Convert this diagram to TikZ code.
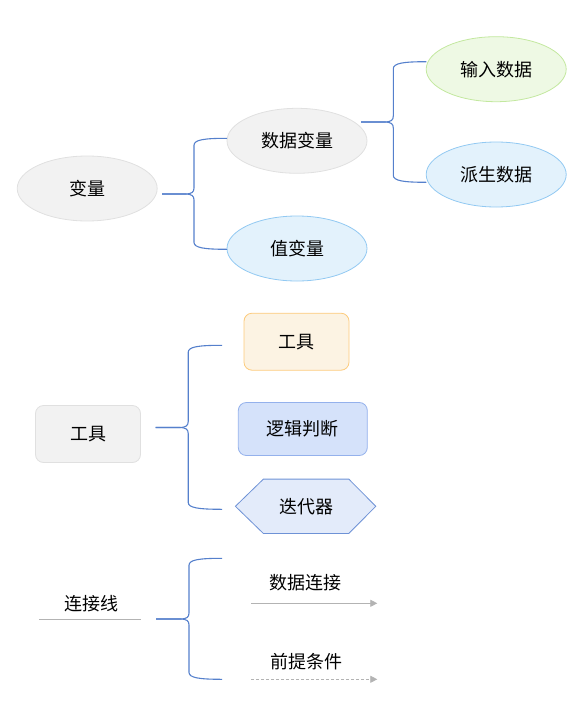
\documentclass[tikz,border=0pt]{standalone}
\usepackage{fontspec}
\newfontfamily\cjk{Noto Sans CJK SC}
\usetikzlibrary{shapes.geometric,arrows.meta,calc,backgrounds}

\definecolor{grayfill}{HTML}{F2F2F2}
\definecolor{grayedge}{HTML}{E0E0E0}
\definecolor{bluefill}{HTML}{E3F2FC}
\definecolor{blueedge}{HTML}{92C9F2}
\definecolor{greenfill}{HTML}{EEF9E4}
\definecolor{greenedge}{HTML}{C3E89F}
\definecolor{orangefill}{HTML}{FCF3E3}
\definecolor{orangeedge}{HTML}{FCCB7C}
\definecolor{logicfill}{HTML}{D5E2FA}
\definecolor{logicedge}{HTML}{94B1EC}
\definecolor{hexfill}{HTML}{E3EBFA}
\definecolor{hexedge}{HTML}{6E92D6}
\definecolor{bracecol}{HTML}{5580CC}
\definecolor{wirecol}{HTML}{B3B3B3}

% curly bracket: tip, spine, upper end, lower end
\newcommand{\curlyjoin}[4]{%
  \draw[brace] (#1) -- ($(#2|-#1)+(-9,0)$)
    .. controls ($(#2|-#1)+(-2,0)$) and ($(#2|-#1)+(0,-2)$) .. ($(#2|-#1)+(0,-6)$)
    -- ($(#2|-#3)+(0,7)$)
    .. controls ($(#2|-#3)+(0,1.5)$) and ($(#2|-#3)+(10,0)$) .. (#3);
  \draw[brace] (#1) -- ($(#2|-#1)+(-9,0)$)
    .. controls ($(#2|-#1)+(-2,0)$) and ($(#2|-#1)+(0,2)$) .. ($(#2|-#1)+(0,6)$)
    -- ($(#2|-#4)+(0,-7)$)
    .. controls ($(#2|-#4)+(0,-1.5)$) and ($(#2|-#4)+(10,0)$) .. (#4);
}

\begin{document}
\begin{tikzpicture}[x=1pt,y=-1pt,
  every node/.style={font=\cjk\fontsize{18}{22}\selectfont, inner sep=0pt},
  oval/.style={ellipse, draw, line width=0.8pt, minimum width=140pt, minimum height=65pt},
  roundbox/.style={rectangle, draw, line width=0.8pt, rounded corners=8pt},
  hexbox/.style={rectangle, minimum width=85pt, minimum height=54pt},
  hexline/.style={draw=hexedge, fill=hexfill, line width=0.8pt},
  brace/.style={draw=bracecol, line width=1.1pt},
  plainline/.style={draw=wirecol, line width=0.8pt},
  flow/.style={draw=wirecol, line width=0.8pt, -{Triangle[length=7pt,width=7pt]}}]
\useasboundingbox (0,0) rectangle (588,709);

% variables
\node[oval, fill=grayfill, draw=grayedge] (var) at (87.2,188.5) {变量};
\node[oval, fill=grayfill, draw=grayedge] (datavar) at (297,140.8) {数据变量};
\node[oval, fill=bluefill, draw=blueedge] (valvar) at (297,248.5) {值变量};
\node[oval, fill=greenfill, draw=greenedge] (input) at (496.2,69.2) {输入数据};
\node[oval, fill=bluefill, draw=blueedge] (derived) at (496.2,174.5) {派生数据};

\coordinate (t1) at (162,194);
\coordinate (s1) at (194,194);
\coordinate (u1) at (227,138.3);
\coordinate (l1) at (227,249.3);
\curlyjoin{t1}{s1}{u1}{l1}

\coordinate (t2) at (361,122);
\coordinate (s2) at (393.3,122);
\coordinate (u2) at (426.3,61.7);
\coordinate (l2) at (426.3,182.3);
\curlyjoin{t2}{s2}{u2}{l2}

% tools
\node[roundbox, fill=grayfill, draw=grayedge, minimum width=105pt, minimum height=57pt] (tool) at (88,434) {工具};
\node[roundbox, fill=orangefill, draw=orangeedge, minimum width=105pt, minimum height=57pt] (toolbox) at (296.5,341.7) {工具};
\node[roundbox, fill=logicfill, draw=logicedge, minimum width=129pt, minimum height=53pt] (logic) at (302.8,429) {逻辑判断};
\node[hexbox] (iter) at (306.1,506.3) {迭代器};
\begin{scope}[on background layer]
\path[hexline] (iter.north west) -- (iter.north east) -- ($(iter.east)+(27,0)$)
  -- (iter.south east) -- (iter.south west) -- ($(iter.west)+(-28,0)$) -- cycle;
\end{scope}

\coordinate (t3) at (155.6,427.5);
\coordinate (s3) at (188.2,427.5);
\coordinate (u3) at (222,345.3);
\coordinate (l3) at (222,509.3);
\curlyjoin{t3}{s3}{u3}{l3}

% connectors
\node (wire) at (91.8,603.3) {连接线};
\coordinate (w0) at (39.3,619.3);
\coordinate (w1) at (140.7,619.3);
\draw[plainline] (w0) -- (w1);

\node (dlink) at (305.5,582.3) {数据连接};
\coordinate (d0) at (251,603.3);
\coordinate (d1) at (377.3,603.3);
\draw[flow] (d0) -- (d1);

\node (cond) at (306,661.7) {前提条件};
\coordinate (c0) at (251,679.3);
\coordinate (c1) at (377.3,679.3);
\draw[flow, dash pattern=on 3pt off 2pt] (c0) -- (c1);

\coordinate (t4) at (156,619);
\coordinate (s4) at (189,619);
\coordinate (u4) at (222,558.3);
\coordinate (l4) at (222,679.3);
\curlyjoin{t4}{s4}{u4}{l4}
\end{tikzpicture}
\end{document}
